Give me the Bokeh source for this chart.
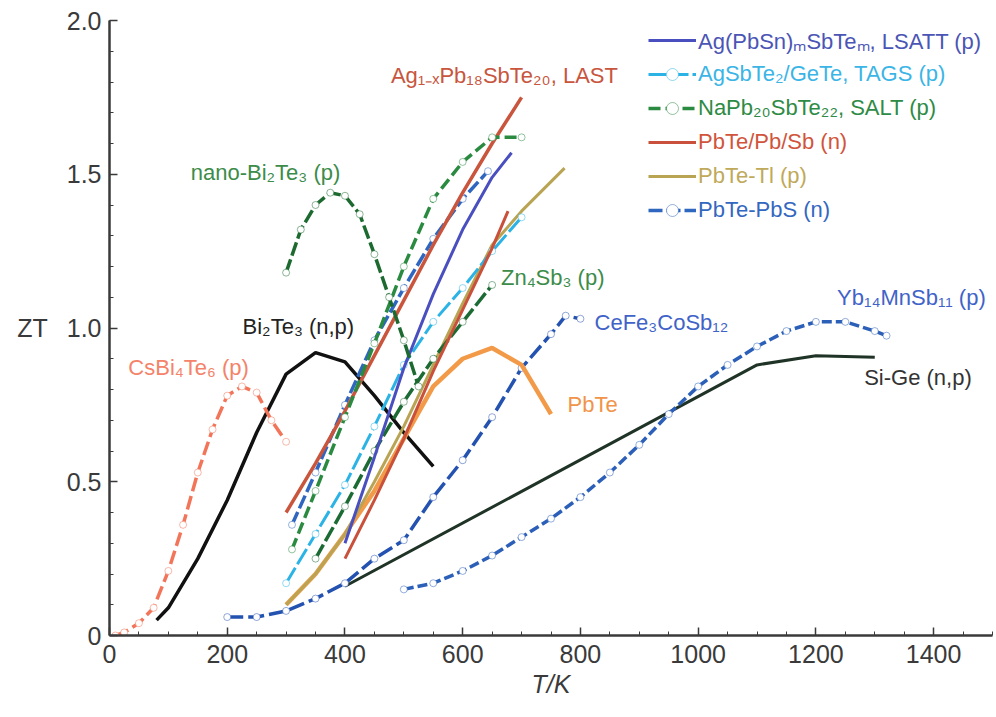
from bokeh.plotting import figure
from bokeh.models import (Range1d, SingleIntervalTicker, CustomJSTickFormatter,
                          Label, Legend, LegendItem)
from bokeh.embed import file_html
from bokeh.resources import INLINE

# ---------------- data (T in K, ZT) ----------------
cs_T = [10, 25, 50, 75, 100, 125, 150, 175, 200, 225, 250, 275, 300]
cs_ZT = [0.0, 0.01, 0.04, 0.09, 0.21, 0.36, 0.53, 0.67, 0.78, 0.81, 0.79, 0.70, 0.63]

bi_T = [80, 100, 150, 200, 250, 300, 350, 400, 450, 500, 550]
bi_ZT = [0.05, 0.09, 0.25, 0.44, 0.66, 0.85, 0.92, 0.89, 0.78, 0.66, 0.55]

nano_T = [300, 325, 350, 375, 400, 425, 450, 475, 500, 525]
nano_ZT = [1.18, 1.32, 1.40, 1.44, 1.43, 1.37, 1.24, 1.10, 0.96, 0.81]

last_T = [300, 350, 400, 450, 500, 550, 600, 650, 700]
last_ZT = [0.40, 0.56, 0.73, 0.91, 1.09, 1.27, 1.44, 1.60, 1.75]

salt_T = [310, 350, 400, 450, 500, 550, 600, 650, 700]
salt_ZT = [0.28, 0.47, 0.71, 0.95, 1.20, 1.42, 1.54, 1.62, 1.62]

lsatt_T = [400, 450, 500, 550, 600, 650, 683]
lsatt_ZT = [0.30, 0.58, 0.87, 1.11, 1.32, 1.49, 1.57]

tags_T = [300, 350, 400, 450, 500, 550, 600, 650, 700]
tags_ZT = [0.17, 0.33, 0.49, 0.68, 0.88, 1.02, 1.13, 1.25, 1.36]

pbs_T = [310, 350, 400, 450, 500, 550, 600, 643]
pbs_ZT = [0.36, 0.53, 0.75, 0.96, 1.13, 1.29, 1.42, 1.51]

pbsb_T = [400, 450, 500, 550, 600, 650, 677]
pbsb_ZT = [0.25, 0.44, 0.64, 0.86, 1.06, 1.26, 1.38]

tl_T = [300, 350, 400, 450, 500, 550, 600, 650, 700, 773]
tl_ZT = [0.10, 0.20, 0.33, 0.50, 0.68, 0.88, 1.08, 1.27, 1.38, 1.52]

pbte_T = [300, 350, 400, 450, 500, 550, 600, 650, 700, 750]
pbte_ZT = [0.10, 0.20, 0.33, 0.47, 0.64, 0.81, 0.90, 0.935, 0.88, 0.72]

zn_T = [350, 400, 450, 500, 550, 600, 650]
zn_ZT = [0.25, 0.42, 0.60, 0.76, 0.90, 1.02, 1.14]

cefe_T = [200, 250, 300, 350, 400, 450, 500, 550, 600, 650, 700, 750, 775, 800]
cefe_ZT = [0.06, 0.06, 0.08, 0.12, 0.17, 0.25, 0.31, 0.45, 0.57, 0.71, 0.87, 0.98, 1.04, 1.03]

yb_T = [500, 550, 600, 650, 700, 750, 800, 850, 900, 950, 1000, 1050, 1100, 1150,
        1200, 1250, 1300, 1320]
yb_ZT = [0.15, 0.17, 0.21, 0.26, 0.32, 0.38, 0.45, 0.53, 0.62, 0.72, 0.81, 0.88, 0.94,
         0.99, 1.02, 1.02, 0.99, 0.975]

sige_T = [400, 1100, 1200, 1300]
sige_ZT = [0.16, 0.88, 0.91, 0.905]

x_ticks_interval = 200
y_ticks_interval = 0.5

FONT = "Liberation Sans"

# ---------------- figure ----------------
p = figure(width=995, height=716, x_range=Range1d(0, 1500), y_range=Range1d(0, 2.0),
           output_backend="svg", toolbar_location=None,
           min_border_left=109, min_border_right=3, min_border_top=20, min_border_bottom=81)
p.outline_line_color = None
p.grid.visible = False
p.background_fill_color = "white"

p.xaxis.ticker = SingleIntervalTicker(interval=x_ticks_interval, num_minor_ticks=4)
p.yaxis.ticker = SingleIntervalTicker(interval=y_ticks_interval, num_minor_ticks=5)
p.yaxis.formatter = CustomJSTickFormatter(code="return tick == 0 ? '0' : tick.toFixed(1);")
for ax in (p.xaxis, p.yaxis):
    ax.axis_line_width = 2.5
    ax.axis_line_color = "#3a3a3a"
    ax.major_tick_line_color = "#3a3a3a"
    ax.minor_tick_line_color = "#3a3a3a"
    ax.major_tick_line_width = 1.5
    ax.minor_tick_line_width = 1
    ax.major_tick_in = 8
    ax.major_tick_out = 0
    ax.minor_tick_in = 4
    ax.minor_tick_out = 0
    ax.major_label_text_font = FONT
    ax.major_label_text_font_size = "25px"
    ax.major_label_text_color = "#3a3a3a"
    ax.axis_label_text_font = FONT
    ax.axis_label_text_font_size = "25px"
    ax.axis_label_text_color = "#3a3a3a"
p.yaxis.major_label_standoff = 8
p.xaxis.major_label_standoff = 9

p.yaxis.axis_label = "ZT"
p.yaxis.axis_label_text_font_style = "normal"
p.yaxis.axis_label_standoff = 16
try:
    p.yaxis[0].axis_label_orientation = "horizontal"
except Exception:
    pass
p.xaxis.axis_label = "T/K"
p.xaxis.axis_label_text_font_style = "italic"
p.xaxis.axis_label_standoff = 4


def series(T, Z, color, width=3.0, dash="solid", markers=False, marker="circle"):
    rs = [p.line(T, Z, line_color=color, line_width=width, line_dash=dash)]
    if markers:
        rs.append(p.scatter(T, Z, marker=marker, size=7, fill_color="white",
                            line_color=color, line_alpha=0.5, line_width=1))
    return rs


series(sige_T, sige_ZT, "#1f3326", 3)
series(yb_T, yb_ZT, "#2b5fb8", 3.5, "10 4", True)
series(cefe_T, cefe_ZT, "#2452b0", 3.5, "16 5", True)
series(bi_T, bi_ZT, "#111111", 3.5)
series(cs_T, cs_ZT, "#f2755a", 3.5, "14 5", True)
series(pbte_T, pbte_ZT, "#f39a48", 4.5)
r_tl = series(tl_T, tl_ZT, "#b8a453", 3)
series(zn_T, zn_ZT, "#1c6b34", 3.5, "16 4", True)
r_tags = series(tags_T, tags_ZT, "#2bb3e6", 3, "18 4", True)
r_pbsb = series(pbsb_T, pbsb_ZT, "#c9503a", 3)
r_lsatt = series(lsatt_T, lsatt_ZT, "#4a4fc0", 3)
r_pbs = series(pbs_T, pbs_ZT, "#2f66c0", 3.5, "14 4", True)
series(last_T, last_ZT, "#c9553d", 3.5)
r_salt = series(salt_T, salt_ZT, "#2a8a40", 3.5, "12 5", True)
series(nano_T, nano_ZT, "#1d6a30", 3.5, "14 4", True)

# ---------------- legend (one per entry for per-entry text colour) ----------------
legend_rows = [
    ("Ag(PbSn)ₘSbTeₘ, LSATT (p)", r_lsatt, "#4b55b5"),
    ("AgSbTe₂/GeTe, TAGS (p)", r_tags, "#3bb5e6"),
    ("NaPb₂₀SbTe₂₂, SALT (p)", r_salt, "#2e8b45"),
    ("PbTe/Pb/Sb (n)", r_pbsb, "#d0553c"),
    ("PbTe-Tl (p)", r_tl, "#bfa95a"),
    ("PbTe-PbS (n)", r_pbs, "#3367c0"),
]
row_h = 30
first_row_center = 595   # px above frame bottom
row_step = 34
for i, (lab, rends, col) in enumerate(legend_rows):
    lg = Legend(items=[LegendItem(label=lab, renderers=rends)],
                location=(539, first_row_center - i * row_step - row_h // 2),
                padding=0, margin=0, spacing=0, glyph_width=48, glyph_height=row_h,
                label_height=row_h, label_standoff=2, border_line_color=None,
                background_fill_alpha=0, label_text_font=FONT,
                label_text_font_size="22px", label_text_color=col)
    p.add_layout(lg, "center")

# ---------------- in-plot labels ----------------
annotations = [
    ("nano-Bi₂Te₃ (p)", 138, 1.506, "#3c8c4a"),
    ("Ag₁₋ₓPb₁₈SbTe₂₀, LAST", 478, 1.82, "#c8553d"),
    ("Zn₄Sb₃ (p)", 665, 1.164, "#3c8c4a"),
    ("CeFe₃CoSb₁₂", 824, 1.018, "#3f63c8"),
    ("Yb₁₄MnSb₁₁ (p)", 1236, 1.10, "#3f63c8"),
    ("Bi₂Te₃ (n,p)", 226, 1.005, "#222222"),
    ("CsBi₄Te₆ (p)", 32, 0.87, "#f4836a"),
    ("PbTe", 778, 0.75, "#f0944a"),
    ("Si-Ge (n,p)", 1282, 0.84, "#333333"),
]
for txt, x, y, col in annotations:
    p.add_layout(Label(x=x, y=y, text=txt, text_font=FONT, text_font_size="22px",
                       text_color=col, text_baseline="middle", text_align="left"))

open("out.html", "w").write(file_html(p, INLINE))
